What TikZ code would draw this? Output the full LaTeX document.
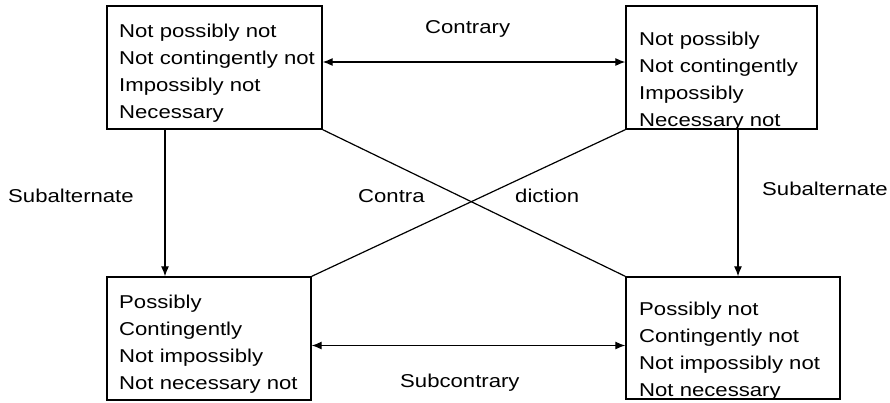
\documentclass[tikz,border=0pt]{standalone}
\usepackage{fontspec}
\setmainfont{Liberation Sans}[FakeStretch=1.19]
\usetikzlibrary{arrows.meta}
\begin{document}
\begin{tikzpicture}[x=1pt,y=-1pt,
  box/.style={draw, line width=1.3pt, rectangle, inner sep=0pt},
  lines/.style={inner sep=0pt, anchor=base west,
    font=\fontsize{18.6}{27}\selectfont},
  lbl/.style={inner sep=0pt, anchor=base west,
    font=\fontsize{18.6}{22}\selectfont},
  rel/.style={line width=1.2pt},
  tip/.style={rel, -{Latex[length=10pt,width=8pt]}},
  both/.style={rel, {Latex[length=10pt,width=8pt]}-{Latex[length=10pt,width=8pt]}}]
\useasboundingbox (0,0) rectangle (890,402);

% the four corner boxes
\node[box, minimum width=215pt, minimum height=123pt] (tl) at (214.5,67.5) {};
\node[box, minimum width=191pt, minimum height=123pt] (tr) at (721.5,67.5) {};
\node[box, minimum width=204pt, minimum height=123pt] (bl) at (209,338.5) {};
\node[box, minimum width=214pt, minimum height=122pt] (br) at (733,338) {};

% their contents
\node[lines] (tltext) at (119,37) {\parbox[t]{230pt}{Not possibly not\\Not contingently not\\Impossibly not\\Necessary}};
\node[lines] (trtext) at (639,45) {\parbox[t]{230pt}{Not possibly\\Not contingently\\Impossibly\\Necessary not}};
\node[lines] (bltext) at (119,308) {\parbox[t]{230pt}{Possibly\\Contingently\\Not impossibly\\Not necessary not}};
\node[lines] (brtext) at (639,315) {\parbox[t]{230pt}{Possibly not\\Contingently not\\Not impossibly not\\Not necessary}};

% relation names
\node[lbl] (contrary) at (425,33) {Contrary};
\node[lbl] (subl) at (8,202) {Subalternate};
\node[lbl] (contra) at (358,202) {Contra};
\node[lbl] (diction) at (515,202) {diction};
\node[lbl] (subr) at (762,195) {Subalternate};
\node[lbl] (subcontrary) at (400,387) {Subcontrary};

% contrary and subcontrary
\draw[both] ([yshift=5.5pt]tl.east) -- ([yshift=5.5pt]tl.east -| tr.west);
\draw[both] ([yshift=-7pt]bl.east) -- ([yshift=-7pt]bl.east -| br.west);

% subalternation
\draw[tip] ([xshift=-49.5pt]tl.south) -- ([xshift=-49.5pt]tl.south |- bl.north);
\draw[tip] ([xshift=16.5pt]tr.south) -- ([xshift=16.5pt]tr.south |- br.north);

% contradiction diagonals
\draw[rel] (tl.south east) -- (br.north west);
\draw[rel] (tr.south west) -- (bl.north east);
\end{tikzpicture}
\end{document}
